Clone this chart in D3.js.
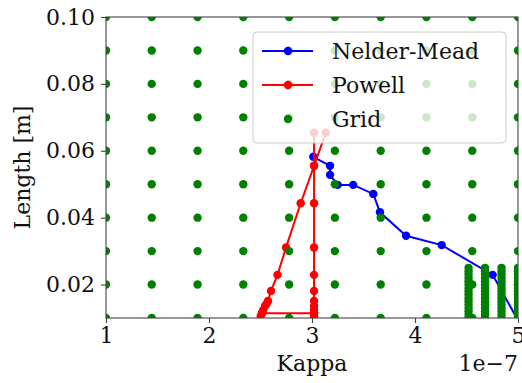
<!DOCTYPE html>
<html>
<head>
<meta charset="utf-8">
<script src="https://cdn.jsdelivr.net/npm/d3@7"></script>
<style>
  body { margin: 0; background: #fff; }
  text { font-family: "DejaVu Serif", serif; fill: #111; }
</style>
</head>
<body>
<div id="main-container"></div>
<script>
var width = 522,
    height = 383

// kappa values are in units of 1e-7
var nmKappa = [3.013, 3.175, 3.175, 3.25, 3.40, 3.595, 3.66, 3.913, 4.259, 4.754, 5.15]
var nmLength = [0.0582, 0.0555, 0.0528, 0.0498, 0.0498, 0.0471, 0.0416, 0.0346, 0.0318, 0.0229, 0.001]

var powellKappa = [3.133, 3.02, 2.89, 2.748, 2.665, 2.602, 2.573, 2.558, 2.544, 2.527, 2.515, 2.502, 2.515,
  3.02, 3.02, 3.02, 3.02, 3.02, 3.02, 3.02, 3.02, 3.02, 3.02, 3.02, 3.02]
var powellLength = [0.0654, 0.0555, 0.0443, 0.0311, 0.0229, 0.0181, 0.0151, 0.0142, 0.0136, 0.0124, 0.0115, 0.0106, 0.0114,
  0.0114, 0.0106, 0.0115, 0.0124, 0.0136, 0.0151, 0.0181, 0.0229, 0.0311, 0.0443, 0.0555, 0.0654]

var gridKappa = [1.0, 1.444, 1.889, 2.333, 2.778, 3.222, 3.667, 4.111, 4.556, 5.0]
var gridLength = [0.01, 0.02, 0.03, 0.04, 0.05, 0.06, 0.07, 0.08, 0.09, 0.10]
var fineKappa = [4.52, 4.68, 4.84, 5.0]
var fineLength = [0.010, 0.011, 0.012, 0.013, 0.014, 0.015, 0.016, 0.017, 0.018, 0.019,
  0.020, 0.021, 0.022, 0.023, 0.024, 0.025]

var xTicks = [1, 2, 3, 4, 5]
var yTicks = [0.02, 0.04, 0.06, 0.08, 0.10]
var legendNames = ["Nelder-Mead", "Powell", "Grid"]

var svg = d3.select("#main-container").append("svg")
  .attr("width", width)
  .attr("height", height)

var x = d3.scaleLinear().domain([1, 5]).range([106, 518])
var y = d3.scaleLinear().domain([0.01, 0.10]).range([318, 17])

svg.append("clipPath").attr("id", "plotclip")
  .append("rect")
  .attr("x", x(1)).attr("y", y(0.10))
  .attr("width", x(5) - x(1)).attr("height", y(0.01) - y(0.10))

var plot = svg.append("g").attr("clip-path", "url(#plotclip)")

var r = 4.2

function series(kx, ly, color) {
  var pts = kx.map(function(k, i){ return [k, ly[i]] })
  plot.append("path")
    .datum(pts)
    .attr("fill", "none")
    .attr("stroke", color)
    .attr("stroke-width", 2)
    .attr("d", d3.line().x(function(d){ return x(d[0]) }).y(function(d){ return y(d[1]) }))
  plot.append("g").selectAll("circle")
    .data(pts)
    .enter()
    .append("circle")
    .attr("cx", function(d){ return x(d[0]) })
    .attr("cy", function(d){ return y(d[1]) })
    .attr("r", r)
    .attr("fill", color)
}

series(nmKappa, nmLength, "#0000ff")
series(powellKappa, powellLength, "#ff0000")

var gridPts = []
gridKappa.forEach(function(k){ gridLength.forEach(function(l){ gridPts.push([k, l]) }) })
fineKappa.forEach(function(k){ fineLength.forEach(function(l){ gridPts.push([k, l]) }) })

plot.append("g").selectAll("circle")
  .data(gridPts)
  .enter()
  .append("circle")
  .attr("cx", function(d){ return x(d[0]) })
  .attr("cy", function(d){ return y(d[1]) })
  .attr("r", r)
  .attr("fill", "#008000")

// axes
var xAxis = svg.append("g")
  .attr("transform", "translate(0," + y(0.01) + ")")
  .call(d3.axisBottom(x).tickValues(xTicks).tickSize(5).tickPadding(4).tickFormat(d3.format("d")))
var yAxis = svg.append("g")
  .attr("transform", "translate(" + x(1) + ",0)")
  .call(d3.axisLeft(y).tickValues(yTicks).tickSize(5).tickPadding(6).tickFormat(d3.format(".2f")))

svg.selectAll(".domain").remove()
svg.selectAll(".tick line").attr("stroke", "#444").attr("stroke-width", 1.1)
svg.selectAll(".tick text").style("font-family", "DejaVu Serif").style("font-size", "22px").attr("fill", "#111")

svg.append("rect")
  .attr("x", x(1)).attr("y", y(0.10))
  .attr("width", x(5) - x(1)).attr("height", y(0.01) - y(0.10))
  .attr("fill", "none")
  .attr("stroke", "#444")
  .attr("stroke-width", 1.1)

svg.append("text")
  .attr("x", (x(1) + x(5)) / 2)
  .attr("y", 371)
  .attr("text-anchor", "middle")
  .style("font-size", "22px")
  .text("Kappa")

svg.append("text")
  .attr("x", x(5))
  .attr("y", 371)
  .attr("text-anchor", "end")
  .style("font-size", "22px")
  .text("1e\u22127")

svg.append("text")
  .attr("transform", "translate(30," + (y(0.01) + y(0.10)) / 2 + ") rotate(-90)")
  .attr("text-anchor", "middle")
  .style("font-size", "22px")
  .text("Length [m]")

// legend
var legend = svg.append("g")
legend.append("rect")
  .attr("x", 253).attr("y", 32)
  .attr("width", 253).attr("height", 111)
  .attr("rx", 4)
  .attr("fill", "#fff").attr("fill-opacity", 0.8)
  .attr("stroke", "#ccc")

var legendColors = ["#0000ff", "#ff0000", "#008000"]
legendNames.forEach(function(name, i){
  var cy = 51 + i * 34
  if (i < 2) {
    legend.append("line")
      .attr("x1", 262).attr("x2", 313)
      .attr("y1", cy).attr("y2", cy)
      .attr("stroke", legendColors[i]).attr("stroke-width", 2)
  }
  legend.append("circle")
    .attr("cx", 288).attr("cy", cy).attr("r", r)
    .attr("fill", legendColors[i])
  legend.append("text")
    .attr("x", 332).attr("y", cy + 8)
    .style("font-size", "22px")
    .text(name)
})
</script>
</body>
</html>
